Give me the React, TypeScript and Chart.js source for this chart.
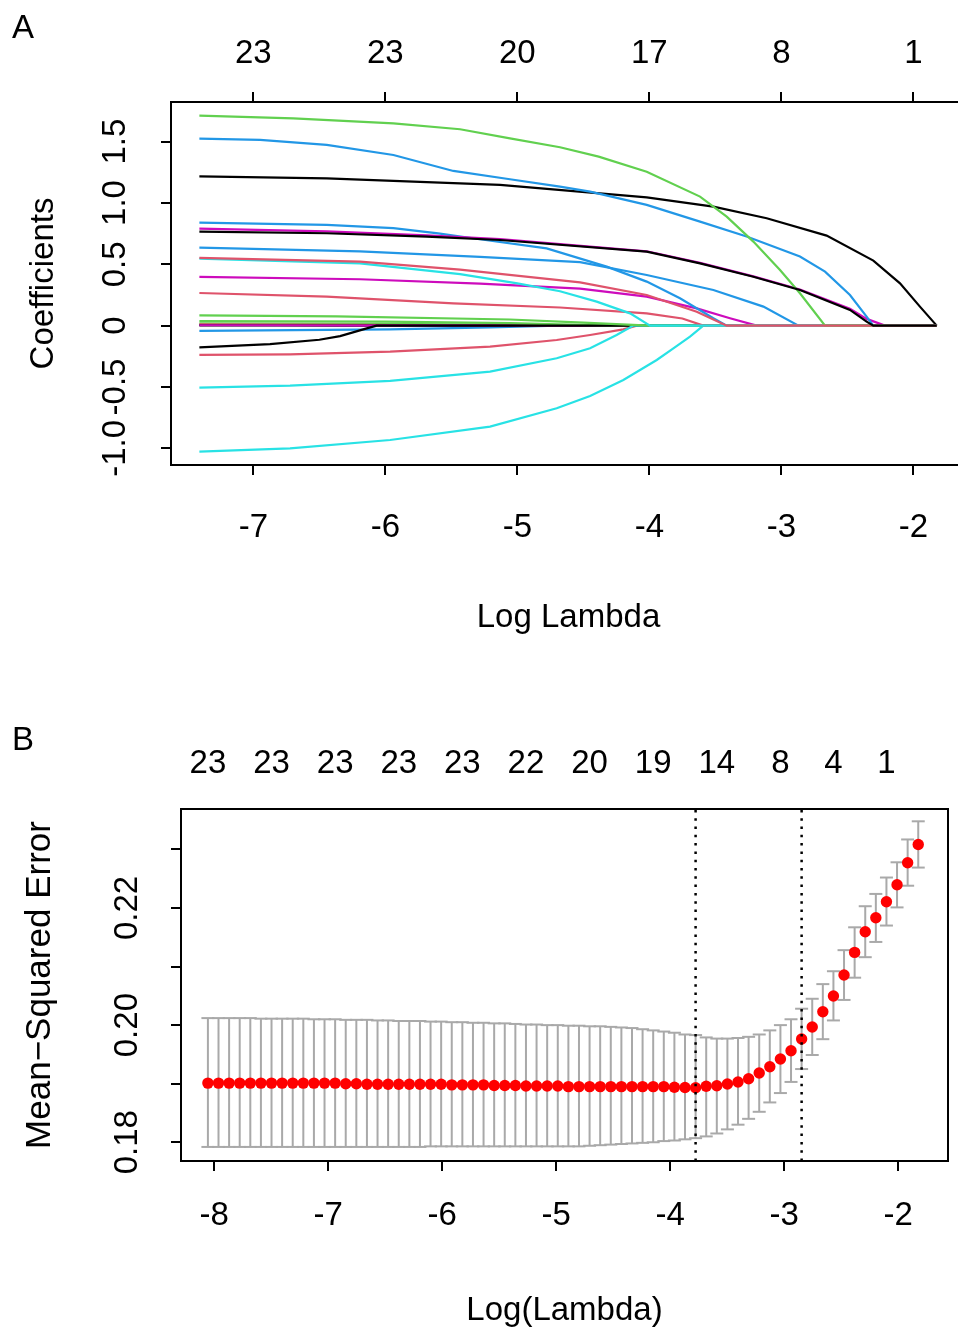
import React, { useEffect, useRef } from "react";
import { Chart, registerables } from "chart.js";

Chart.register(...registerables);

const FONT_FAMILY = '"Liberation Sans", Arial, Helvetica, sans-serif';

/* ================= Panel A : coefficient paths ================= */
const X_TICKS_A = [-7, -6, -5, -4, -3, -2];
const X_TICK_LABELS_A = ["-7", "-6", "-5", "-4", "-3", "-2"];
const DF_POS_A = [-7, -6, -5, -4, -3, -2];
const DF_LABELS_A = ["23", "23", "20", "17", "8", "1"];
const Y_TICKS_A = [-1, -0.5, 0, 0.5, 1, 1.5];
const Y_TICK_LABELS_A = ["-1.0", "-0.5", "0", "0.5", "1.0", "1.5"];
const X_MIN_A = -7.624;
const X_MAX_A = -1.601;
const Y_MIN_A = -1.136;
const Y_MAX_A = 1.823;

const BLACK = "#000000";
const RED = "#DF536B";
const GREEN = "#61D04F";
const BLUE = "#2297E6";
const CYAN = "#28E2E5";
const MAGENTA = "#CD0BBC";

// [log(lambda), coefficient]
const PATH_K1 = [[-7.409, 1.217], [-6.444, 1.201], [-5.434, 1.16], [-5.131, 1.147], [-4.02, 1.046], [-3.515, 0.97], [-3.111, 0.875], [-2.657, 0.734], [-2.303, 0.53], [-2.101, 0.345], [-1.95, 0.155], [-1.823, 0]];
const PATH_K2 = [[-7.409, 0.766], [-6.444, 0.753], [-5.687, 0.726], [-5.131, 0.698], [-4.02, 0.603], [-3.616, 0.508], [-3.212, 0.399], [-2.859, 0.291], [-2.48, 0.128], [-2.354, 0.033], [-2.303, 0], [-1.823, 0]];
const PATH_K3 = [[-7.409, -0.177], [-6.874, -0.15], [-6.5, -0.115], [-6.343, -0.085], [-6.141, -0.022], [-6.066, 0], [-1.823, 0]];
const PATH_K4 = [[-7.409, 0.002], [-6.8, 0.001], [-6.3, 0], [-1.823, 0]];
const PATH_R1 = [[-7.409, 0.552], [-6.192, 0.522], [-5.434, 0.456], [-4.525, 0.352], [-4.02, 0.25], [-3.641, 0.114], [-3.414, 0], [-1.823, 0]];
const PATH_R2 = [[-7.409, 0.266], [-6.444, 0.236], [-5.485, 0.182], [-4.677, 0.148], [-4.02, 0.1], [-3.75, 0.058], [-3.591, 0], [-1.823, 0]];
const PATH_R3 = [[-7.409, -0.239], [-6.722, -0.234], [-5.964, -0.212], [-5.207, -0.171], [-4.702, -0.117], [-4.449, -0.076], [-4.197, -0.03], [-4.096, 0], [-1.823, 0]];
const PATH_R4 = [[-7.409, 0.01], [-6.2, 0.006], [-5.5, 0], [-1.823, 0]];
const PATH_G1 = [[-7.409, 1.712], [-6.697, 1.69], [-5.939, 1.649], [-5.434, 1.601], [-5.056, 1.527], [-4.677, 1.454], [-4.384, 1.378], [-4.02, 1.255], [-3.616, 1.052], [-3.414, 0.889], [-3.212, 0.685], [-3.01, 0.454], [-2.859, 0.264], [-2.669, 0], [-1.823, 0]];
const PATH_G2 = [[-7.409, 0.084], [-6.369, 0.075], [-5.056, 0.05], [-4.5, 0.025], [-4.0, 0], [-1.823, 0]];
const PATH_G3 = [[-7.409, 0.038], [-6.0, 0.032], [-5.056, 0.02], [-4.3, 0], [-1.823, 0]];
const PATH_G4 = [[-7.409, 0.019], [-6.0, 0.015], [-5.0, 0.006], [-4.6, 0], [-1.823, 0]];
const PATH_B1 = [[-7.409, 1.524], [-6.949, 1.514], [-6.444, 1.473], [-5.939, 1.391], [-5.485, 1.261], [-5.056, 1.193], [-4.677, 1.133], [-4.449, 1.092], [-4.02, 0.984], [-3.616, 0.848], [-3.263, 0.726], [-2.859, 0.563], [-2.669, 0.44], [-2.48, 0.25], [-2.354, 0.073], [-2.303, 0], [-1.823, 0]];
const PATH_B2 = [[-7.409, 0.84], [-6.444, 0.821], [-5.939, 0.795], [-5.6, 0.752], [-5.283, 0.704], [-4.778, 0.63], [-4.323, 0.481], [-4.02, 0.359], [-3.768, 0.223], [-3.515, 0.06], [-3.414, 0], [-1.823, 0]];
const PATH_B3 = [[-7.409, 0.636], [-6.192, 0.605], [-5.283, 0.56], [-4.525, 0.518], [-4.02, 0.413], [-3.515, 0.291], [-3.136, 0.155], [-2.87, 0], [-1.823, 0]];
const PATH_B4 = [[-7.409, -0.043], [-5.964, -0.03], [-5.207, -0.014], [-4.7, 0], [-1.823, 0]];
const PATH_C1 = [[-7.409, 0.546], [-6.192, 0.508], [-5.434, 0.42], [-5.0, 0.345], [-4.677, 0.28], [-4.399, 0.196], [-4.146, 0.1], [-3.995, 0], [-1.823, 0]];
const PATH_C2 = [[-7.409, -0.505], [-6.722, -0.489], [-5.964, -0.451], [-5.207, -0.375], [-4.702, -0.266], [-4.449, -0.185], [-4.248, -0.076], [-4.121, 0], [-1.823, 0]];
const PATH_C3 = [[-7.409, -1.027], [-6.722, -1.0], [-5.964, -0.932], [-5.207, -0.823], [-4.702, -0.674], [-4.449, -0.573], [-4.197, -0.443], [-3.944, -0.28], [-3.818, -0.185], [-3.692, -0.09], [-3.591, 0], [-1.823, 0]];
const PATH_C4 = [[-7.409, 0.006], [-6.0, 0.004], [-5.3, 0], [-1.823, 0]];
const PATH_M1 = [[-7.409, 0.791], [-6.444, 0.768], [-5.687, 0.735], [-5.131, 0.705], [-4.02, 0.606], [-3.616, 0.512], [-3.212, 0.402], [-2.859, 0.295], [-2.48, 0.137], [-2.354, 0.055], [-2.215, 0], [-1.823, 0]];
const PATH_M2 = [[-7.409, 0.397], [-6.192, 0.378], [-5.283, 0.342], [-4.525, 0.302], [-4.02, 0.236], [-3.641, 0.141], [-3.389, 0.06], [-3.187, 0], [-1.823, 0]];
const PATH_M3 = [[-7.409, 0.003], [-6.5, 0.001], [-6.0, 0], [-1.823, 0]];

const SERIES_A = [
  { color: BLACK, pts: PATH_K2 }, { color: RED, pts: PATH_R1 }, { color: GREEN, pts: PATH_G1 },
  { color: BLUE, pts: PATH_B1 }, { color: CYAN, pts: PATH_C1 }, { color: MAGENTA, pts: PATH_M1 },
  { color: BLACK, pts: PATH_K1 }, { color: RED, pts: PATH_R2 }, { color: GREEN, pts: PATH_G2 },
  { color: BLUE, pts: PATH_B2 }, { color: CYAN, pts: PATH_C2 }, { color: MAGENTA, pts: PATH_M2 },
  { color: BLACK, pts: PATH_K3 }, { color: RED, pts: PATH_R3 }, { color: GREEN, pts: PATH_G3 },
  { color: BLUE, pts: PATH_B3 }, { color: CYAN, pts: PATH_C3 }, { color: MAGENTA, pts: PATH_M3 },
  { color: BLACK, pts: PATH_K4 }, { color: RED, pts: PATH_R4 }, { color: GREEN, pts: PATH_G4 },
  { color: BLUE, pts: PATH_B4 }, { color: CYAN, pts: PATH_C4 },
];

/* ================= Panel B : cross-validation curve ================= */
const LOG_LAMBDA_B = [
  -8.056, -7.963, -7.87, -7.777, -7.684, -7.591, -7.498, -7.405, -7.312, -7.219,
  -7.126, -7.033, -6.94, -6.847, -6.754, -6.661, -6.568, -6.475, -6.382, -6.289,
  -6.196, -6.103, -6.01, -5.917, -5.824, -5.731, -5.638, -5.545, -5.452, -5.359,
  -5.266, -5.173, -5.08, -4.987, -4.894, -4.801, -4.708, -4.615, -4.522, -4.429,
  -4.336, -4.243, -4.15, -4.057, -3.964, -3.871, -3.778, -3.685, -3.592, -3.499,
  -3.406, -3.313, -3.22, -3.127, -3.034, -2.941, -2.848, -2.755, -2.662, -2.569,
  -2.476, -2.383, -2.29, -2.197, -2.104, -2.011, -1.918, -1.825,
];
const MSE_B = [
  0.1901, 0.1901, 0.1901, 0.1901, 0.1901, 0.1901, 0.1901, 0.1901, 0.1901, 0.1901,
  0.1901, 0.1901, 0.1901, 0.19, 0.19, 0.1899, 0.1899, 0.1899, 0.1899, 0.1899,
  0.1899, 0.1899, 0.1899, 0.1898, 0.1898, 0.1898, 0.1898, 0.1897, 0.1897, 0.1897,
  0.1896, 0.1896, 0.1896, 0.1896, 0.1895, 0.1895, 0.1895, 0.1895, 0.1895, 0.1895,
  0.1895, 0.1895, 0.1895, 0.1895, 0.1894, 0.18935, 0.1893, 0.18955, 0.18966, 0.18994,
  0.19028, 0.19085, 0.19182, 0.1929, 0.19421, 0.19563, 0.19762, 0.19967, 0.20229, 0.20496,
  0.20855, 0.21242, 0.21595, 0.21834, 0.22107, 0.22397, 0.22772, 0.23085,
];
const MSE_UP_B = [
  0.2012, 0.2012, 0.2012, 0.2012, 0.2012, 0.2011, 0.2011, 0.2011, 0.2011, 0.2011,
  0.201, 0.201, 0.201, 0.2009, 0.2009, 0.2009, 0.2008, 0.2008, 0.2007, 0.2007,
  0.2007, 0.2006, 0.2006, 0.2005, 0.2005, 0.2004, 0.2004, 0.2003, 0.2003, 0.2002,
  0.2001, 0.2001, 0.2, 0.2, 0.1999, 0.1999, 0.1998, 0.1998, 0.1997, 0.1996,
  0.1995, 0.1993, 0.1991, 0.1989, 0.1987, 0.1984, 0.1983, 0.1979, 0.1977, 0.1977,
  0.1978, 0.198, 0.1984, 0.1991, 0.2, 0.201, 0.2028, 0.2045, 0.207, 0.2092,
  0.2128, 0.2167, 0.2203, 0.2224, 0.2252, 0.2278, 0.2317, 0.2348,
];
const MSE_LO_B = [
  0.1792, 0.1792, 0.1792, 0.1792, 0.1792, 0.1792, 0.1792, 0.1792, 0.1792, 0.1792,
  0.1792, 0.1792, 0.1792, 0.1792, 0.1792, 0.1792, 0.1792, 0.1792, 0.1792, 0.1792,
  0.1792, 0.1793, 0.1793, 0.1793, 0.1793, 0.1793, 0.1793, 0.1793, 0.1793, 0.1793,
  0.1793, 0.1793, 0.1793, 0.1793, 0.1793, 0.1793, 0.1794, 0.1795, 0.1796, 0.1797,
  0.1798, 0.1799, 0.18, 0.1802, 0.1803, 0.1805, 0.1807, 0.181, 0.1815, 0.1822,
  0.183, 0.184, 0.1852, 0.1868, 0.1884, 0.1903, 0.1925, 0.1949, 0.1976, 0.2008,
  0.2043, 0.2081, 0.2116, 0.2142, 0.217, 0.2201, 0.2238, 0.2269,
];
const DF_POS_B = [-8.056, -7.498, -6.94, -6.382, -5.824, -5.266, -4.708, -4.15, -3.592, -3.034, -2.569, -2.104];
const DF_LABELS_B = ["23", "23", "23", "23", "23", "22", "20", "19", "14", "8", "4", "1"];
const LAMBDA_MIN_B = -3.778;
const LAMBDA_1SE_B = -2.848;
const X_TICKS_B = [-8, -7, -6, -5, -4, -3, -2];
const X_TICK_LABELS_B = ["-8", "-7", "-6", "-5", "-4", "-3", "-2"];
const Y_TICKS_B = [0.18, 0.19, 0.2, 0.21, 0.22, 0.23];
const Y_TICK_LABELS_B = ["0.18", "", "0.20", "", "0.22", ""];
const X_MIN_B = -8.292;
const X_MAX_B = -1.564;
const Y_MIN_B = 0.1768;
const Y_MAX_B = 0.2369;

/* ================= helpers ================= */
function drawText(ctx: any, text: string, x: number, y: number, size: number, align: string = "center", rotate: boolean = false) {
  if (!text) return;
  ctx.save();
  ctx.font = `${size}px ${FONT_FAMILY}`;
  ctx.fillStyle = "#000";
  ctx.textAlign = align;
  ctx.textBaseline = "alphabetic";
  ctx.translate(x, y);
  if (rotate) ctx.rotate(-Math.PI / 2);
  ctx.fillText(text, 0, 0);
  ctx.restore();
}

function axis(position: string, min: number, max: number, ticks: number[], size: number, drawTicks: boolean, showGrid: boolean = true) {
  const vertical = position === "left" || position === "right";
  return {
    type: "linear",
    axis: vertical ? "y" : "x",
    position,
    min,
    max,
    bounds: "data",
    afterBuildTicks: (s: any) => {
      s.ticks = ticks.map((value) => ({ value }));
    },
    afterFit: (s: any) => {
      if (vertical) s.width = size;
      else s.height = size;
    },
    ticks: { display: false },
    grid: {
      display: showGrid,
      drawOnChartArea: false,
      drawTicks,
      tickLength: 10,
      tickWidth: 2,
      tickColor: "#000",
      lineWidth: 2,
      color: "#000",
    },
    border: { display: true, color: "#000", width: 2 },
  };
}

const baseOptions = {
  animation: false,
  responsive: false,
  maintainAspectRatio: false,
  devicePixelRatio: 1,
  events: [],
  layout: { padding: 0, autoPadding: false },
  plugins: { legend: { display: false }, tooltip: { enabled: false } },
};

function configA(): any {
  const textPlugin = {
    id: "textA",
    afterDraw(chart: any) {
      const { ctx, chartArea, scales } = chart;
      X_TICKS_A.forEach((v, i) => drawText(ctx, X_TICK_LABELS_A[i], scales.x.getPixelForValue(v), chartArea.bottom + 72, 33));
      DF_POS_A.forEach((v, i) => drawText(ctx, DF_LABELS_A[i], scales.xTop.getPixelForValue(v), chartArea.top - 39, 33));
      Y_TICKS_A.forEach((v, i) => drawText(ctx, Y_TICK_LABELS_A[i], chartArea.left - 46, scales.y.getPixelForValue(v), 33, "center", true));
      drawText(ctx, "Coefficients", chartArea.left - 118, (chartArea.top + chartArea.bottom) / 2, 33, "center", true);
      drawText(ctx, "Log Lambda", (chartArea.left + chartArea.right) / 2, chartArea.bottom + 162, 33);
      drawText(ctx, "A", 12, 38, 33, "left");
    },
  };
  return {
    type: "line",
    data: {
      datasets: SERIES_A.map((s) => ({
        data: s.pts.map(([x, y]) => ({ x, y })),
        borderColor: s.color,
        borderWidth: 2.2,
        pointRadius: 0,
        tension: 0,
        fill: false,
        xAxisID: "x",
        yAxisID: "y",
      })),
    },
    options: {
      ...baseOptions,
      scales: {
        x: axis("bottom", X_MIN_A, X_MAX_A, X_TICKS_A, 195, true),
        xTop: axis("top", X_MIN_A, X_MAX_A, DF_POS_A, 102, true),
        y: axis("left", Y_MIN_A, Y_MAX_A, Y_TICKS_A, 171, true),
        yRight: axis("right", Y_MIN_A, Y_MAX_A, [Y_MIN_A, Y_MAX_A], 34, false, false),
      },
    },
    plugins: [textPlugin],
  };
}

function configB(): any {
  const textPlugin = {
    id: "textB",
    afterDraw(chart: any) {
      const { ctx, chartArea, scales } = chart;
      X_TICKS_B.forEach((v, i) => drawText(ctx, X_TICK_LABELS_B[i], scales.x.getPixelForValue(v), chartArea.bottom + 64, 33));
      DF_POS_B.forEach((v, i) => drawText(ctx, DF_LABELS_B[i], scales.xTop.getPixelForValue(v), chartArea.top - 36, 33));
      Y_TICKS_B.forEach((v, i) => drawText(ctx, Y_TICK_LABELS_B[i], chartArea.left - 44.3, scales.y.getPixelForValue(v), 33, "center", true));
      drawText(ctx, "Mean\u2212Squared Error", chartArea.left - 131.5, (chartArea.top + chartArea.bottom) / 2, 35, "center", true);
      drawText(ctx, "Log(Lambda)", (chartArea.left + chartArea.right) / 2, chartArea.bottom + 159, 33);
      drawText(ctx, "B", 12, 90, 33, "left");
    },
  };
  const segments: any[] = [];
  LOG_LAMBDA_B.forEach((v, i) => {
    segments.push({ x: v, y: MSE_LO_B[i] }, { x: v, y: MSE_UP_B[i] }, { x: v, y: null });
  });
  const vline = (v: number) => ({
    type: "line",
    data: [{ x: v, y: Y_MIN_B }, { x: v, y: Y_MAX_B }],
    borderColor: "#000",
    borderWidth: 2.5,
    borderDash: [2.5, 5.8],
    pointRadius: 0,
    order: 0,
  });
  return {
    type: "scatter",
    data: {
      datasets: [
        vline(LAMBDA_MIN_B),
        vline(LAMBDA_1SE_B),
        {
          type: "scatter",
          data: LOG_LAMBDA_B.map((x, i) => ({ x, y: MSE_B[i] })),
          pointRadius: 5.7,
          pointBackgroundColor: "#FF0000",
          pointBorderWidth: 0,
          pointBorderColor: "#FF0000",
          order: 1,
        },
        {
          type: "scatter",
          data: LOG_LAMBDA_B.map((x, i) => ({ x, y: MSE_UP_B[i] })),
          pointStyle: "line",
          pointRadius: 6.5,
          pointBorderColor: "#A9A9A9",
          pointBorderWidth: 2,
          order: 2,
        },
        {
          type: "scatter",
          data: LOG_LAMBDA_B.map((x, i) => ({ x, y: MSE_LO_B[i] })),
          pointStyle: "line",
          pointRadius: 6.5,
          pointBorderColor: "#A9A9A9",
          pointBorderWidth: 2,
          order: 2,
        },
        {
          type: "line",
          data: segments,
          borderColor: "#A9A9A9",
          borderWidth: 2,
          borderCapStyle: "butt",
          spanGaps: false,
          pointRadius: 0,
          order: 3,
        },
      ],
    },
    options: {
      ...baseOptions,
      scales: {
        x: axis("bottom", X_MIN_B, X_MAX_B, X_TICKS_B, 166, true),
        xTop: axis("top", X_MIN_B, X_MAX_B, DF_POS_B, 149, false),
        y: axis("left", Y_MIN_B, Y_MAX_B, Y_TICKS_B, 181, true),
        yRight: axis("right", Y_MIN_B, Y_MAX_B, [Y_MIN_B, Y_MAX_B], 10, false, false),
      },
    },
    plugins: [textPlugin],
  };
}

export default function App() {
  const refA = useRef<HTMLCanvasElement>(null);
  const refB = useRef<HTMLCanvasElement>(null);

  useEffect(() => {
    const a = new Chart(refA.current as any, configA());
    const b = new Chart(refB.current as any, configB());
    return () => {
      a.destroy();
      b.destroy();
    };
  }, []);

  return (
    <div style={{ position: "absolute", left: 0, top: 0, width: 958, height: 1327, overflow: "hidden", background: "#ffffff" }}>
      <canvas ref={refA} width={1000} height={660} style={{ position: "absolute", left: 0, top: 0, width: 1000, height: 660 }} />
      <canvas ref={refB} width={958} height={667} style={{ position: "absolute", left: 0, top: 660, width: 958, height: 667 }} />
    </div>
  );
}
